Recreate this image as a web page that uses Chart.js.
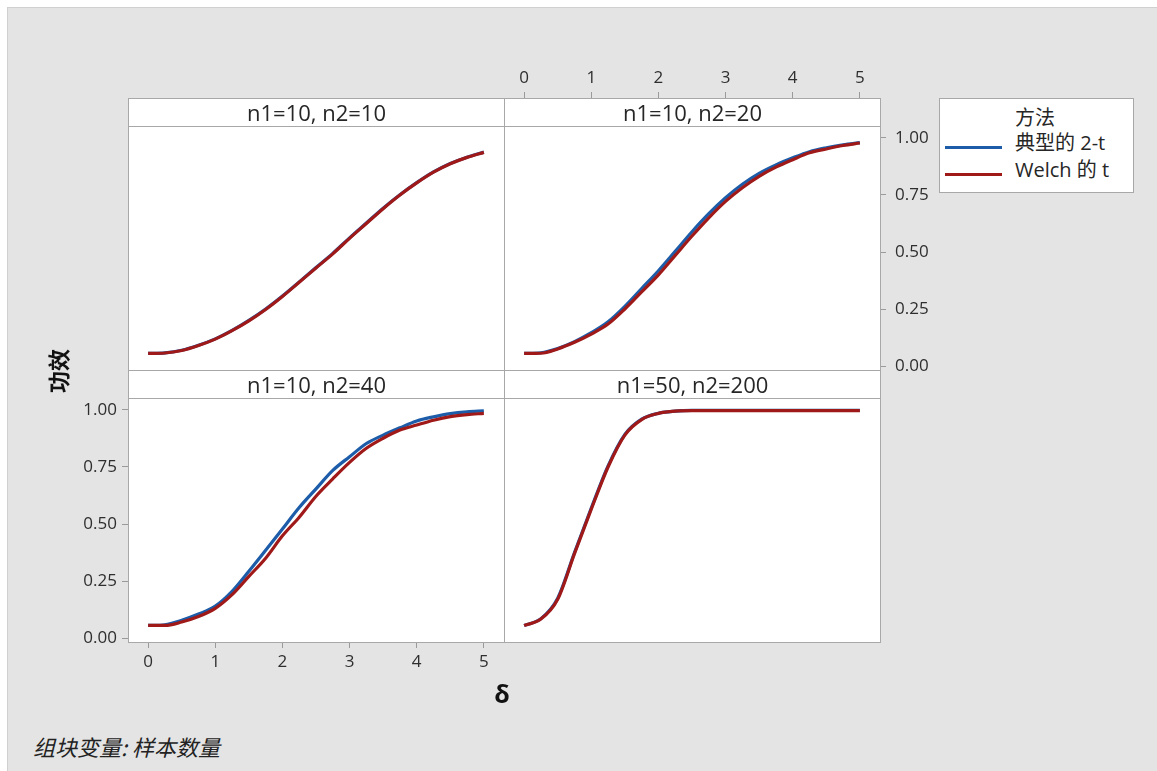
<!DOCTYPE html>
<html>
<head>
<meta charset="utf-8">
<script src="https://cdn.jsdelivr.net/npm/chart.js@4.4.1/dist/chart.umd.min.js"></script>
<style>
  body { margin: 0; width: 1157px; height: 771px; background: #fff; position: relative; overflow: hidden;
         font-family: "Open Sans", "Noto Sans CJK SC", sans-serif; color: #262626; }
  #frame { position: absolute; left: 7px; top: 7px; right: 0; bottom: 0; background: #e4e4e4;
           border-left: 1px solid #d0d0d0; border-top: 1px solid #d0d0d0; }
  .panel-bg { position: absolute; background: #fff; }
  canvas { position: absolute; }
  .box { position: absolute; box-sizing: border-box; border: 1px solid #a8a8a8; pointer-events: none; }
  .strip { position: absolute; box-sizing: border-box; border: 1px solid #a8a8a8; background: #fff;
           text-align: center; font-size: 22px; line-height: 26px; white-space: nowrap; }
  #legend { position: absolute; left: 939px; top: 98px; width: 195px; height: 95px; box-sizing: border-box;
            background: #fff; border: 1px solid #a8a8a8; font-size: 20px; }
  #legend .title { position: absolute; left: 75px; top: 6px; line-height: 26px; }
  #legend .row { position: absolute; left: 5px; height: 26px; width: 185px; }
  #legend .swatch { position: absolute; left: 0; width: 57px; height: 3px; }
  #legend .label { position: absolute; left: 70px; top: 0; line-height: 26px; white-space: nowrap; }
  .ytitle { position: absolute; left: 57px; top: 371px; transform: translate(-50%, -50%) rotate(-90deg);
            font: bold 22px "Noto Sans CJK SC", sans-serif; color: #111; white-space: nowrap; }
  .xtitle { position: absolute; left: 502px; top: 693px; transform: translate(-50%, -50%);
            font: bold 25px "Open Sans", sans-serif; color: #111; }
  .footer { position: absolute; left: 33px; top: 746px; transform: translateY(-50%);
            font: italic 22px "Noto Sans CJK SC", sans-serif; color: #222; white-space: nowrap; }
</style>
</head>
<body>
<div id="frame"></div>
<div id="plots"></div>
<div id="legend"></div>
<div class="ytitle">功效</div>
<div class="xtitle">δ</div>
<div class="footer">组块变量: 样本数量</div>
<script>
// effect size grid shared by every panel
const deltas = [0, 0.25, 0.5, 0.75, 1, 1.25, 1.5, 1.75, 2, 2.25, 2.5, 2.75, 3, 3.25, 3.5, 3.75, 4, 4.25, 4.5, 4.75, 5];

const panelTitles = ['n1=10, n2=10', 'n1=10, n2=20', 'n1=10, n2=40', 'n1=50, n2=200'];
const methodNames = ['典型的 2-t', 'Welch 的 t'];
const methodColors = ['#1c5ca8', '#a01919'];

const xTicks = [0, 1, 2, 3, 4, 5];
const yTicks = [0, 0.25, 0.5, 0.75, 1];

// simulated power, pooled (classic) two-sample t
const pooled_10_10 = [0.055, 0.058, 0.069, 0.091, 0.119, 0.156, 0.2, 0.25, 0.307, 0.369, 0.432, 0.494, 0.562, 0.627, 0.692, 0.751, 0.804, 0.851, 0.888, 0.916, 0.938];
const pooled_10_20 = [0.055, 0.058, 0.077, 0.107, 0.146, 0.194, 0.262, 0.34, 0.418, 0.503, 0.589, 0.668, 0.738, 0.797, 0.845, 0.882, 0.913, 0.94, 0.957, 0.97, 0.98];
const pooled_10_40 = [0.055, 0.058, 0.078, 0.105, 0.14, 0.205, 0.293, 0.385, 0.478, 0.572, 0.654, 0.735, 0.795, 0.853, 0.89, 0.922, 0.952, 0.97, 0.984, 0.992, 0.996];
const pooled_50_200 = [0.055, 0.085, 0.175, 0.375, 0.57, 0.755, 0.893, 0.96, 0.986, 0.995, 0.998, 0.998, 0.998, 0.998, 0.998, 0.998, 0.998, 0.998, 0.998, 0.998, 0.998];

// simulated power, Welch t
const welch_10_10 = [0.055, 0.057, 0.068, 0.09, 0.118, 0.155, 0.198, 0.248, 0.305, 0.367, 0.43, 0.492, 0.56, 0.625, 0.69, 0.75, 0.803, 0.85, 0.887, 0.915, 0.937];
const welch_10_20 = [0.055, 0.056, 0.075, 0.104, 0.14, 0.184, 0.25, 0.325, 0.4, 0.485, 0.57, 0.65, 0.722, 0.782, 0.832, 0.872, 0.905, 0.935, 0.952, 0.967, 0.978];
const welch_10_40 = [0.055, 0.055, 0.07, 0.094, 0.13, 0.19, 0.27, 0.35, 0.448, 0.53, 0.622, 0.698, 0.77, 0.832, 0.876, 0.912, 0.934, 0.955, 0.971, 0.98, 0.985];
const welch_50_200 = [0.055, 0.083, 0.17, 0.37, 0.565, 0.75, 0.89, 0.958, 0.985, 0.995, 0.997, 0.997, 0.997, 0.997, 0.997, 0.997, 0.997, 0.997, 0.997, 0.997, 0.997];

const panelSeries = [
  [pooled_10_10, welch_10_10],
  [pooled_10_20, welch_10_20],
  [pooled_10_40, welch_10_40],
  [pooled_50_200, welch_50_200],
];

// panel placement: which panels carry the shared axes
const panelW = 376, panelH = 272, stripH = 29, margin = 60;
const panelLayout = [
  { left: 128, top: 98, xPos: null, yPos: null },
  { left: 504, top: 98, xPos: 'top', yPos: 'right' },
  { left: 128, top: 370, xPos: 'bottom', yPos: 'left' },
  { left: 504, top: 370, xPos: null, yPos: null },
];

const tickFont = { family: '"Open Sans", sans-serif', size: 17 };
const tickColor = '#2e2e2e';
const tickMarkColor = '#9a9a9a';

const plots = document.getElementById('plots');

function addDiv(cls, style, text) {
  const el = document.createElement('div');
  el.className = cls;
  Object.assign(el.style, style);
  if (text) el.textContent = text;
  plots.appendChild(el);
  return el;
}

// pin a visible axis to the canvas margin so every plot area lines up
function fixedSize(visible, key) {
  if (!visible) return undefined;
  return (s) => {
    s[key] = margin;
    s.paddingLeft = s.paddingRight = s.paddingTop = s.paddingBottom = 0;
  };
}

panelLayout.forEach((p, i) => {
  addDiv('panel-bg', { left: p.left + 'px', top: p.top + 'px', width: panelW + 'px', height: panelH + 'px' });

  const canvas = document.createElement('canvas');
  canvas.width = panelW + margin * 2;
  canvas.height = panelH + margin * 2;
  canvas.style.left = (p.left - margin) + 'px';
  canvas.style.top = (p.top - margin) + 'px';
  plots.appendChild(canvas);

  const padding = {
    top: p.xPos === 'top' ? 0 : margin,
    bottom: p.xPos === 'bottom' ? 0 : margin,
    left: p.yPos === 'left' ? 0 : margin,
    right: p.yPos === 'right' ? 0 : margin,
  };

  new Chart(canvas, {
    type: 'line',
    data: {
      datasets: panelSeries[i].map((values, k) => ({
        label: methodNames[k],
        data: deltas.map((d, j) => ({ x: d, y: values[j] })),
        borderColor: methodColors[k],
        borderWidth: 3.2,
        pointRadius: 0,
        cubicInterpolationMode: 'monotone',
        order: k === 0 ? 2 : 1,
      })),
    },
    options: {
      responsive: false,
      animation: false,
      devicePixelRatio: 1,
      events: [],
      layout: { padding },
      plugins: { legend: { display: false }, tooltip: { enabled: false } },
      scales: {
        x: {
          type: 'linear',
          display: !!p.xPos,
          position: p.xPos || 'bottom',
          min: -0.3,
          max: 5.3,
          afterBuildTicks: (s) => { s.ticks = xTicks.map((v) => ({ value: v })); },
          afterFit: fixedSize(!!p.xPos, 'height'),
          border: { display: false },
          grid: { drawOnChartArea: false, drawTicks: true, tickLength: 6, color: tickMarkColor },
          ticks: { color: tickColor, font: tickFont, padding: 4, maxRotation: 0, autoSkip: false,
                   callback: (v) => String(v) },
        },
        y: {
          type: 'linear',
          display: !!p.yPos,
          position: p.yPos || 'left',
          min: -0.0175,
          max: 1.1754,
          afterBuildTicks: (s) => { s.ticks = yTicks.map((v) => ({ value: v })); },
          afterFit: fixedSize(!!p.yPos, 'width'),
          border: { display: false },
          grid: { drawOnChartArea: false, drawTicks: true, tickLength: 6, color: tickMarkColor },
          ticks: { color: tickColor, font: tickFont, padding: p.yPos === 'right' ? 9 : 5,
                   callback: (v) => Number(v).toFixed(2) },
        },
      },
    },
  });

  addDiv('box', { left: p.left + 'px', top: p.top + 'px', width: (panelW + 1) + 'px', height: (panelH + 1) + 'px' });
  addDiv('strip', { left: p.left + 'px', top: p.top + 'px', width: (panelW + 1) + 'px', height: stripH + 'px' }, panelTitles[i]);
});

// legend
const legend = document.getElementById('legend');
const title = document.createElement('div');
title.className = 'title';
title.textContent = '方法';
legend.appendChild(title);
methodNames.forEach((name, k) => {
  const row = document.createElement('div');
  row.className = 'row';
  row.style.top = (31 + k * 27) + 'px';
  const sw = document.createElement('div');
  sw.className = 'swatch';
  sw.style.background = methodColors[k];
  sw.style.top = '16px';
  const lab = document.createElement('div');
  lab.className = 'label';
  lab.textContent = name;
  row.appendChild(sw);
  row.appendChild(lab);
  legend.appendChild(row);
});
</script>
</body>
</html>
